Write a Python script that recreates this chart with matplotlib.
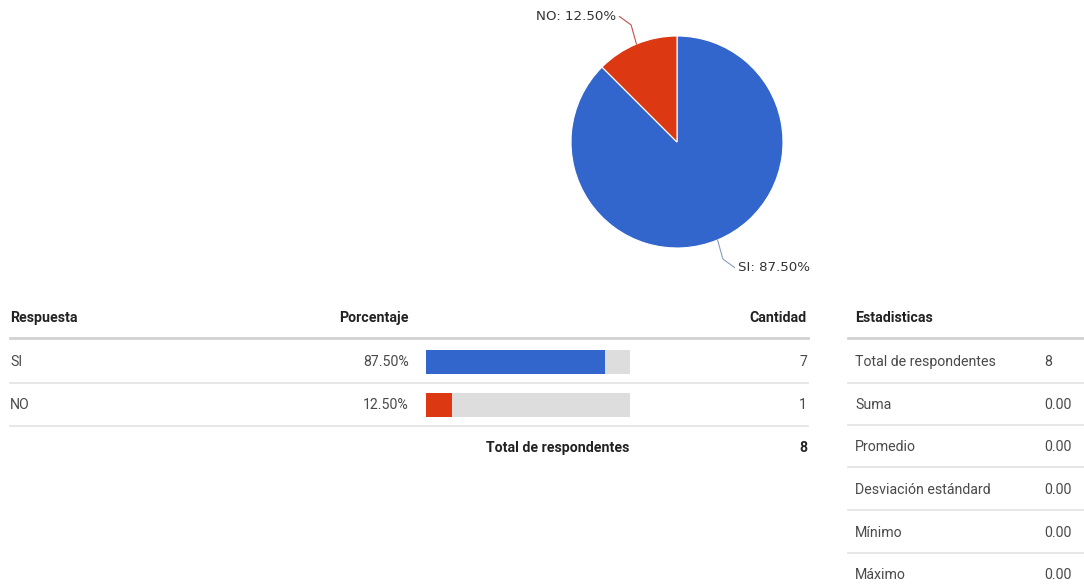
import matplotlib
matplotlib.use("Agg")
import matplotlib.pyplot as plt
import numpy as np

plt.rcParams['font.family'] = ['Roboto', 'DejaVu Sans']

# ---- data ----
answers = ["SI", "NO"]
percentages = [87.50, 12.50]
counts = [7, 1]
total_respondents = 8
colors = ["#3366CC", "#DC3912"]

stat_labels = ["Total de respondentes", "Suma", "Promedio",
               "Desviación estándard", "Mínimo", "Máximo"]
stat_values = ["8", "0.00", "0.00", "0.00", "0.00", "0.00"]

W, H = 1084, 585
fig = plt.figure(figsize=(W / 100, H / 100), dpi=100)
fig.patch.set_facecolor("white")

# full-figure axes in pixel coordinates for table layout
ax = fig.add_axes([0, 0, 1, 1])
ax.set_xlim(0, W)
ax.set_ylim(H, 0)
ax.axis("off")

HEAD = "#222222"
BODY = "#4a4a4a"
LINE = "#e3e3e3"
HLINE = "#d2d2d2"
FS = 10.2

# ---- pie ----
cx, cy, r = 677, 142, 106
ax_pie = fig.add_axes([(cx - r) / W, (H - cy - r) / H, 2 * r / W, 2 * r / H])
wedges, _ = ax_pie.pie(percentages, colors=colors, startangle=90, counterclock=False,
                       radius=1, wedgeprops=dict(edgecolor="white", linewidth=0.8))
ax_pie.set_xlim(-1, 1)
ax_pie.set_ylim(-1, 1)
ax_pie.set_aspect("equal")
ax_pie.axis("off")

# leader lines and labels
line_cols = ["#8a9bbf", "#c0504d"]
for w, lab, p, lc in zip(wedges, answers, percentages, line_cols):
    mid = np.deg2rad((w.theta1 + w.theta2) / 2)
    x0, y0 = np.cos(mid), np.sin(mid)
    x1 = x0 + 0.16 * np.sign(x0)
    y1 = y0 + 0.26 * np.sign(y0)
    ax_pie.plot([x0, x0 + 0.05 * np.sign(x0), x1], [y0, y0 + 0.18 * np.sign(y0), y1],
                color=lc, lw=0.8, clip_on=False)
    ha = "left" if x0 > 0 else "right"
    ax_pie.text(x1 + 0.03 * np.sign(x0), y1, f"{lab}: {p:.2f}%", ha=ha, va="center",
                fontsize=9.6, color="#333333", clip_on=False, family="DejaVu Sans")

# ---- left table ----
hdr_y = 318
ax.text(10, hdr_y, "Respuesta", ha="left", va="center", fontsize=FS, fontweight="bold", color=HEAD)
ax.text(409, hdr_y, "Porcentaje", ha="right", va="center", fontsize=FS, fontweight="bold", color=HEAD)
ax.text(807, hdr_y, "Cantidad", ha="right", va="center", fontsize=FS, fontweight="bold", color=HEAD)
ax.plot([10, 808], [338, 338], color=HLINE, lw=2)

row_y = [362, 405]
row_line = [383, 426]
for i, (a, p, c) in enumerate(zip(answers, percentages, counts)):
    ax.text(10, row_y[i], a, ha="left", va="center", fontsize=FS, color=BODY)
    ax.text(409, row_y[i], f"{p:.2f}%", ha="right", va="center", fontsize=FS, color=BODY)
    ax.text(807, row_y[i], str(c), ha="right", va="center", fontsize=FS, color=BODY)
    ax.plot([10, 808], [row_line[i], row_line[i]], color=LINE, lw=1.2)

ax.text(629, 448, "Total de respondentes", ha="right", va="center", fontsize=FS,
        fontweight="bold", color=HEAD)
ax.text(807, 448, str(total_respondents), ha="right", va="center", fontsize=FS,
        fontweight="bold", color=HEAD)

# bars
bx0, bx1 = 426, 630
ax_bar = fig.add_axes([bx0 / W, (H - 426.5) / H, (bx1 - bx0) / W, 86 / H])
ypos = np.arange(len(answers))
ax_bar.barh(ypos, [100] * len(answers), height=0.58, color="#dddddd")
ax_bar.barh(ypos, percentages, height=0.58, color=colors)
ax_bar.set_xlim(0, 100)
ax_bar.set_ylim(1.5, -0.5)
ax_bar.axis("off")

# ---- right table ----
sx0 = 855
vx = 1044
ax.text(sx0, hdr_y, "Estadisticas", ha="left", va="center", fontsize=FS, fontweight="bold", color=HEAD)
ax.plot([848, W], [338, 338], color=HLINE, lw=2)
srow_y = [362, 405, 447, 490, 533, 575]
sline_y = [383, 425, 467, 510, 553]
for i, (lab, val) in enumerate(zip(stat_labels, stat_values)):
    ax.text(sx0, srow_y[i], lab, ha="left", va="center", fontsize=FS, color=BODY)
    ax.text(vx, srow_y[i], val, ha="left", va="center", fontsize=FS, color=BODY)
    if i < len(sline_y):
        ax.plot([848, W], [sline_y[i], sline_y[i]], color=LINE, lw=1.2)

fig.savefig("out.png", dpi=100, facecolor="white")
